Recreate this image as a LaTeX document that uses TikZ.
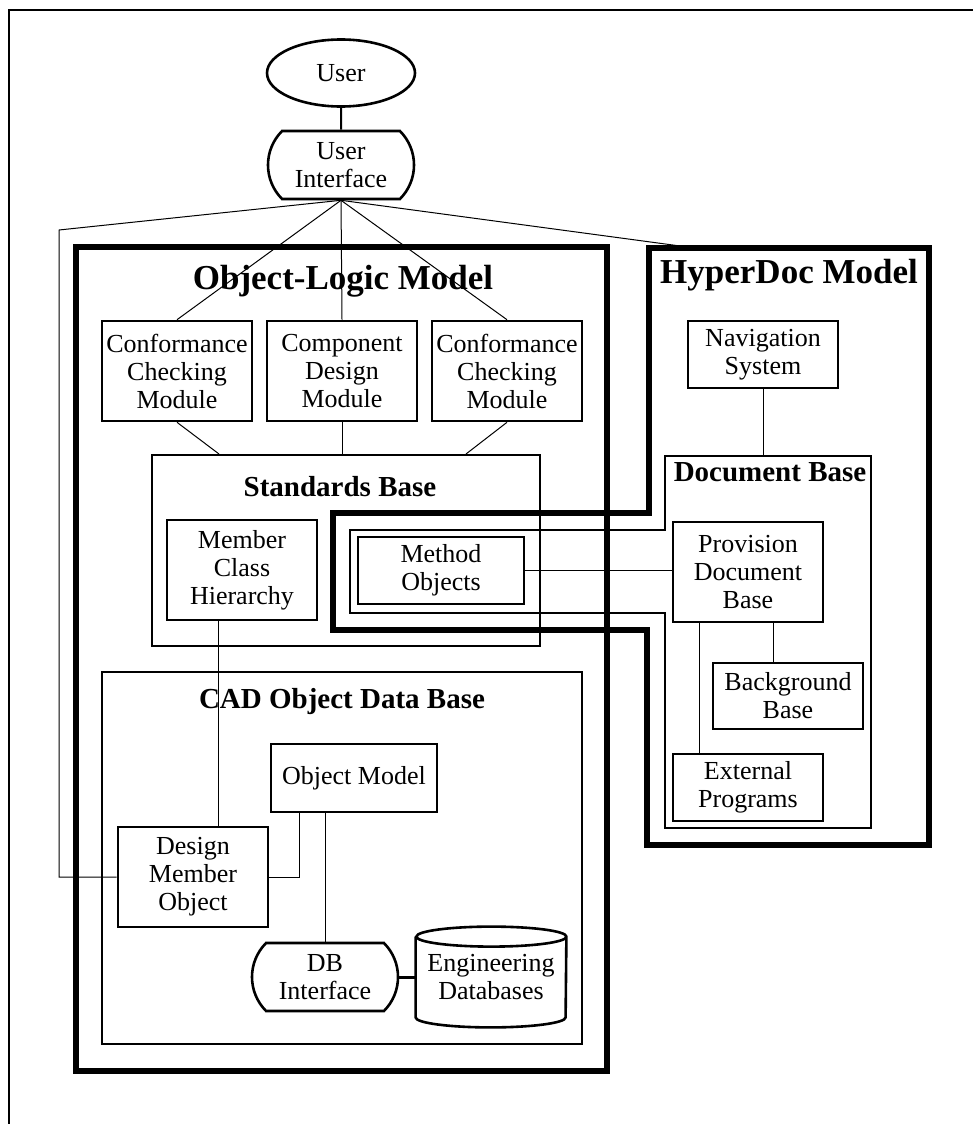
\documentclass[tikz,border=0pt]{standalone}
\usepackage{fontspec}
\setmainfont{Liberation Serif}
\usetikzlibrary{shapes.geometric}
\usetikzlibrary{shapes.misc}

\tikzset{
  modbox/.style={draw, line width=1.3pt, align=center, inner sep=1pt,
    minimum width=75pt, minimum height=50pt, font=\fontsize{13}{14}\selectfont},
  roundbox/.style={modbox, rounded rectangle, rounded rectangle arc length=90,
    minimum height=34pt},
  frame/.style={draw, line width=1pt},
  heavyframe/.style={draw, line width=2.8pt},
  link/.style={line width=0.5pt},
  bigtitle/.style={font=\fontsize{17.5}{20}\selectfont\bfseries, inner sep=0pt},
  subtitle/.style={font=\fontsize{14.5}{17}\selectfont\bfseries, inner sep=0pt}
}

\begin{document}
\begin{tikzpicture}[x=0.5pt, y=-0.5pt]
        \useasboundingbox (0,0) rectangle (973,1124);

        \draw[line width=1pt] (9,1124) -- (9,10) -- (973,10);

        \node[modbox, ellipse, minimum width=74pt, minimum height=33.5pt] (user) at (341,73) {User};
        \node[roundbox] (ui) at (341,165) {User\\Interface};
        \draw[line width=1pt] (user) -- (ui);

        \node[heavyframe, minimum width=265.5pt, minimum height=412pt] (olm) at (341.5,659) {};
        \node[bigtitle] (olmtitle) at (343,281) {Object-Logic Model};

        \draw[heavyframe] (649,248) -- (929,248) -- (929,845) -- (647,845) -- (647,630)
            -- (333,630) -- (333,513) -- (649,513) -- cycle;
        \node[bigtitle] (hdtitle) at (789,275) {HyperDoc Model};
        \coordinate (hdtop) at (695,248);
        \coordinate (lbend) at (59,230);

        \node[modbox] (cc1) at (177,371) {Conformance\\Checking\\Module};
        \node[modbox] (cd) at (342,371) {Component\\Design\\Module};
        \node[modbox] (cc2) at (507,371) {Conformance\\Checking\\Module};

        \draw[link] (ui.south) -- (cc1.north);
        \draw[link] (ui.south) -- (cd.north);
        \draw[link] (ui.south) -- (cc2.north);
        \draw[link] (ui.south) -- (hdtop);

        \node[frame, minimum width=194pt, minimum height=95.5pt] (sbase) at (346,550.5) {};
        \node[subtitle] (sbtitle) at (340,487) {Standards Base};
        \node[modbox] (mch) at (242,570) {Member\\Class\\Hierarchy};

        \draw[link] (cc1.south) -- ([xshift=34pt]sbase.north west);
        \draw[link] (cd.south) -- (cd.south |- sbase.north);
        \draw[link] (cc2.south) -- ([xshift=-37.5pt]sbase.north east);

        \draw[frame] (665,456) coordinate (dbnw) -- (871,456) -- (871,828) -- (665,828) -- (665,613)
            -- (350,613) -- (350,530) -- (665,530) -- cycle;
        \node[subtitle] (dbtitle) at (770,472) {Document Base};
        \node[modbox, minimum width=83pt, minimum height=33.5pt] (mo) at (441,570.5) {Method\\Objects};

        \node[modbox, minimum height=33.5pt] (nav) at (763,354.5) {Navigation\\System};
        \node[modbox] (pdb) at (748,572) {Provision\\Document\\Base};
        \node[modbox, minimum height=33pt] (bb) at (788,696) {Background\\Base};
        \node[modbox, minimum height=33.5pt] (ep) at (748,787.5) {External\\Programs};

        \draw[link] (nav.south) -- (nav.south |- dbnw);
        \draw[link] (mo.east) -- (mo.east -| pdb.west);
        \draw[link] ([xshift=12.5pt]pdb.south) -- ([xshift=12.5pt]pdb.south |- bb.north);
        \draw[link] ([xshift=-24.5pt]pdb.south) -- ([xshift=-24.5pt]pdb.south |- ep.north);

        \node[frame, minimum width=240pt, minimum height=186pt] (cadb) at (342,858) {};
        \node[subtitle] (cadtitle) at (342,702) {CAD Object Data Base};
        \node[modbox, minimum width=83pt, minimum height=34pt] (om) at (354,778) {Object Model};
        \node[modbox] (dmo) at (193,877) {Design\\Member\\Object};
        \node[roundbox] (dbi) at (325,977) {DB\\Interface};
        \node[align=center, inner sep=0pt, minimum width=75pt, minimum height=50pt,
            font=\fontsize{13}{14}\selectfont] (engdb) at (491,977) {Engineering\\Databases};
        \draw[line width=1.3pt] ([yshift=-5pt]engdb.north west) -- ([yshift=5pt]engdb.south west)
            arc[start angle=180, end angle=360, x radius=37.5pt, y radius=5pt]
            -- ([yshift=-5pt]engdb.north east)
            arc[start angle=0, end angle=360, x radius=37.5pt, y radius=5pt];

        \draw[link] (ui.south) -- (lbend) |- (dmo.west);
        \draw[link] ([xshift=-12pt]mch.south) -- ([xshift=-12pt]mch.south |- dmo.north);
        \draw[link] (dmo.east) -| ([xshift=-27.5pt]om.south);
        \draw[link] (dbi.north |- om.south) -- (dbi.north);
        \draw[line width=1.5pt] (dbi.east) -- (engdb.west);
\end{tikzpicture}
\end{document}
